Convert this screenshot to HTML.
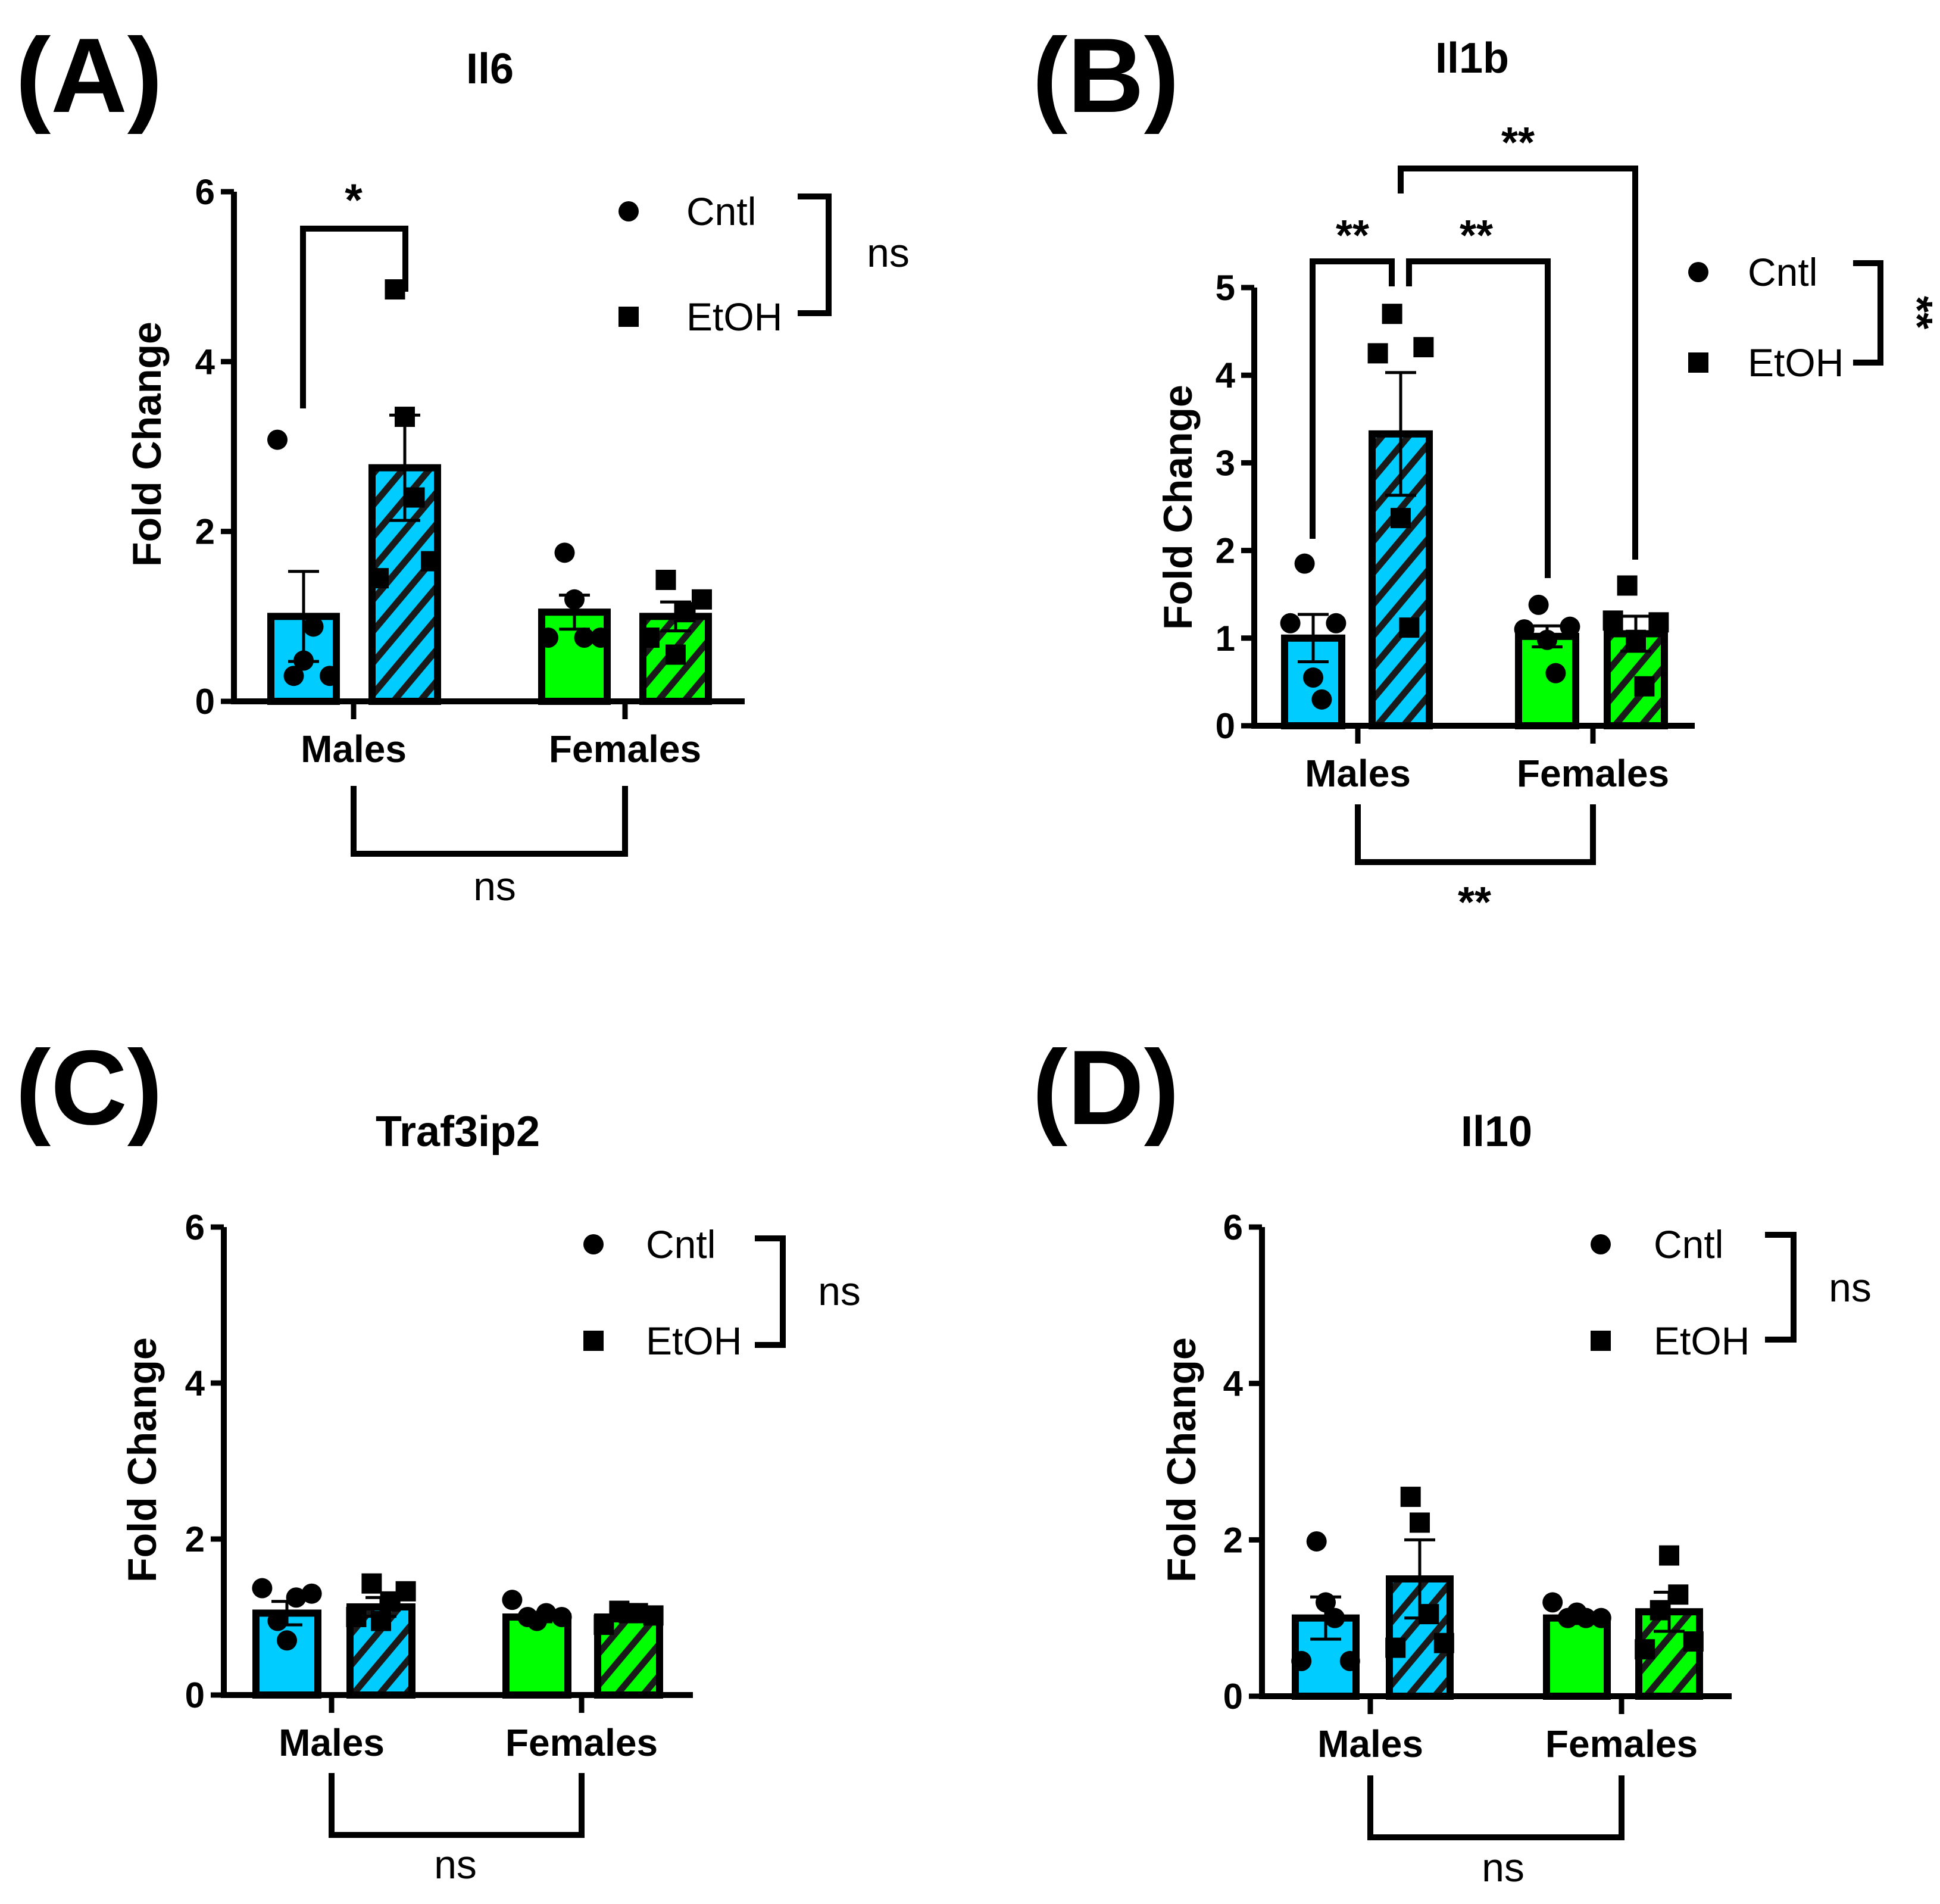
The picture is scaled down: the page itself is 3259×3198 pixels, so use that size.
<!DOCTYPE html>
<html><head><meta charset="utf-8">
<style>
html,body{margin:0;padding:0;background:#fff;}
svg{display:block;font-family:"Liberation Sans",Arial,sans-serif;}
</style></head>
<body>
<svg id="fig" width="3259" height="3198" viewBox="0 0 3259 3198" xmlns="http://www.w3.org/2000/svg">
<defs>
<pattern id="hatchB" patternUnits="userSpaceOnUse" width="34" height="34" patternTransform="rotate(40)">
<rect width="34" height="34" fill="#00CCFF"/><rect width="11" height="34" fill="#1a1a1a"/></pattern>
<pattern id="hatchG" patternUnits="userSpaceOnUse" width="34" height="34" patternTransform="rotate(40)">
<rect width="34" height="34" fill="#00FF00"/><rect width="11" height="34" fill="#1a1a1a"/></pattern>
</defs>
</svg>
<script>
// ---- data ----
const groups = ["Males","Females"];
const series = ["Cntl","EtOH"];
const il6Means = [1.0, 2.75, 1.05, 1.0];
const il6Sem = [0.53, 0.62, 0.2, 0.17];
const il6Points = [[3.08,0.3,0.48,0.88,0.3],[1.45,4.85,3.35,2.4,1.65],[0.75,1.75,1.2,0.75,0.75],[0.75,1.43,0.55,1.05,1.2]];
const il1bMeans = [1.0, 3.33, 1.02, 1.05];
const il1bSem = [0.27, 0.7, 0.12, 0.2];
const il1bPoints = [[1.17,1.85,0.55,0.3,1.17],[4.25,4.7,2.37,1.12,4.32],[1.1,1.38,0.98,0.6,1.13],[1.2,1.6,0.98,0.45,1.18]];
const trafMeans = [1.05, 1.13, 1.0, 1.0];
const trafSem = [0.15, 0.12, 0.06, 0.05];
const trafPoints = [[1.37,0.95,0.7,1.25,1.3],[1.0,1.43,0.95,1.2,1.33],[1.22,1.0,0.95,1.05,1.0],[0.9,1.08,1.05,1.05,1.02]];
const il10Means = [1.0, 1.5, 1.0, 1.08];
const il10Sem = [0.27, 0.5, 0.07, 0.25];
const il10Points = [[0.45,1.98,1.2,1.0,0.45],[0.62,2.55,2.22,1.05,0.68],[1.2,1.0,1.07,1.0,1.0],[0.6,1.1,1.8,1.3,0.7]];
const ticksA = [0,2,4,6];
const ticksB = [0,1,2,3,4,5];
const ticksC = [0,2,4,6];
const ticksD = [0,2,4,6];

const NS="http://www.w3.org/2000/svg";
const svg=document.getElementById('fig');
function el(tag,attrs,parent,text){const e=document.createElementNS(NS,tag);for(const k in attrs)e.setAttribute(k,attrs[k]);if(text!==undefined)e.textContent=text;(parent||svg).appendChild(e);return e;}
const jitter=[-0.4,-0.15,0,0.15,0.4];

function panel(cfg){
  const g=el('g',{});
  
  
  const y=v=>cfg.y0-(v/cfg.ymax)*(cfg.y0-cfg.ytop);
  const barX=i=>cfg.barLeft[i];
  const bw=cfg.bw;
  const fills=['#00CCFF','url(#hatchB)','#00FF00','url(#hatchG)'];
  cfg.means.forEach((m,i)=>{
    const b=el('rect',{x:barX(i),y:y(m),width:bw,height:cfg.y0-y(m),fill:fills[i],stroke:'#000','stroke-width':12},g);
    
    
  });
  cfg.points.forEach((arr,i)=>{
    const cx=barX(i)+bw/2;
    arr.forEach((v,j)=>{
      const px=cx+jitter[j]*bw;
      let p;
      if(i%2===0){p=el('circle',{cx:px,cy:y(v),r:17,fill:'#000'},g);}
      else{p=el('rect',{x:px-17,y:y(v)-17,width:34,height:34,fill:'#000'},g);}
      
      
    });
  });
  cfg.means.forEach((m,i)=>{
    const cx=barX(i)+bw/2,t=y(m+cfg.sem[i]),bt=y(m-cfg.sem[i]);
    const e=el('path',{d:`M${cx},${bt}V${t}M${cx-26},${t}H${cx+26}M${cx-26},${bt}H${cx+26}`,stroke:'#000','stroke-width':5,fill:'none'},g);
    
    
  });
  const ax=el('path',{d:`M${cfg.ax},${cfg.ytop}V${cfg.y0}H${cfg.xend}`,stroke:'#000','stroke-width':10,fill:'none'},g);
  
  
  cfg.ticks.forEach(t=>{
    el('line',{x1:cfg.ax-22,x2:cfg.ax,y1:y(t),y2:y(t),stroke:'#000','stroke-width':9},g);
    const tl=el('text',{x:cfg.ax-32,y:y(t)+21,'text-anchor':'end','font-size':60,'font-weight':'bold'},g,String(t));
    
    
  });
  groups.forEach((gname,k)=>{
    const gx=cfg.groupX[k];
    el('line',{x1:gx,x2:gx,y1:cfg.y0,y2:cfg.y0+30,stroke:'#000','stroke-width':9},g);
    const cl=el('text',{x:gx,y:cfg.y0+102,'text-anchor':'middle','font-size':64,'font-weight':'bold'},g,gname);
    
    
  });
  const yl=el('text',{x:0,y:0,'text-anchor':'middle','font-size':68,'font-weight':'bold',transform:`translate(${cfg.ylx},${cfg.yly}) rotate(-90)`},g,'Fold Change');
  
  
  const ti=el('text',{x:cfg.titleX,y:cfg.titleY,'text-anchor':'middle','font-size':72,'font-weight':'bold'},g,cfg.title);
  
  
  const lt=el('text',{x:cfg.letterX,y:cfg.letterY,'font-size':178,'font-weight':'bold'},g,cfg.letter);
  
  
  const L=cfg.leg;
  const lc=el('circle',{cx:L.mx,cy:L.y1,r:17,fill:'#000'},g);
  
  
  const ls=el('rect',{x:L.mx-17,y:L.y2-17,width:34,height:34,fill:'#000'},g);
  
  
  const t1=el('text',{x:L.tx,y:L.y1+23,'font-size':66},g,'Cntl');
  
  
  const t2=el('text',{x:L.tx,y:L.y2+23,'font-size':66},g,'EtOH');
  
  
  const lb=el('path',{d:`M${L.bx1},${L.by1}H${L.bx2}V${L.by2}H${L.bx1}`,stroke:'#000','stroke-width':10,fill:'none'},g);
  
  
  const lst=el('text',{x:L.sx,y:L.sy,'font-size':L.rot?72:68,'font-weight':L.rot?'bold':'normal','text-anchor':'middle',transform:L.rot?`rotate(90 ${L.sx} ${L.sy})`:''},g,L.sig);
  
  
  const B=cfg.bot;
  const bb=el('path',{d:`M${cfg.groupX[0]},${B.y1}V${B.y2}H${cfg.groupX[1]}V${B.y1}`,stroke:'#000','stroke-width':10,fill:'none'},g);
  
  
  const bs=el('text',{x:B.sx,y:B.sy,'text-anchor':'middle','font-size':B.bold?72:68,'font-weight':B.bold?'bold':'normal'},g,B.sig);
  
  
  return g;
}

const gA=panel({name:'panel-a-il6',title:'Il6',letter:'(A)',letterX:26,letterY:188,titleX:823,titleY:140,
 y0:1178,ytop:322,ymax:6,ax:393,xend:1251,bw:110,barLeft:[455,625,910,1080],groupX:[594,1050],
 means:il6Means,sem:il6Sem,points:il6Points,ticks:ticksA,ylx:270,yly:746,
 leg:{mx:1056,y1:355,y2:532,tx:1153,bx1:1340,bx2:1392,by1:330,by2:526,sx:1492,sy:448,sig:'ns'},
 bot:{y1:1320,y2:1434,sx:831,sy:1512,sig:'ns'}});
const gB=panel({name:'panel-b-il1b',title:'Il1b',letter:'(B)',letterX:1734,letterY:188,titleX:2473,titleY:122,
 y0:1219,ytop:483,ymax:5,ax:2107,xend:2847,bw:96,barLeft:[2158,2305,2551,2700],groupX:[2281,2676],
 means:il1bMeans,sem:il1bSem,points:il1bPoints,ticks:ticksB,ylx:2002,yly:852,
 leg:{mx:2853,y1:457,y2:609,tx:2936,bx1:3113,bx2:3159,by1:442,by2:609,sx:3196,sy:525,sig:'**',rot:true},
 bot:{y1:1351,y2:1448,sx:2477,sy:1540,sig:'**',bold:true}});
[[`M2205,905V439H2338V481`,'bracket-males-cntl-etoh'],[`M2367,481V439H2600V971`,'bracket-males-females-etoh'],[`M2353,325V283H2747V940`,'bracket-etoh-sex']].forEach(b=>{
  const p=el('path',{d:b[0],stroke:'#000','stroke-width':10,fill:'none'},gB);
  
  
});
[[2272,420],[2480,420],[2550,264]].forEach(s=>{
  const t=el('text',{x:s[0],y:s[1],'text-anchor':'middle','font-size':72,'font-weight':'bold'},gB,'**');
  
  
});
const pa=el('path',{d:'M509,686V384H681V490',stroke:'#000','stroke-width':10,fill:'none'},gA);


const sa=el('text',{x:594,y:362,'text-anchor':'middle','font-size':76,'font-weight':'bold'},gA,'*');



panel({name:'panel-c-traf3ip2',title:'Traf3ip2',letter:'(C)',letterX:26,letterY:1888,titleX:769,titleY:1925,
 y0:2847,ytop:2061,ymax:6,ax:376,xend:1164,bw:104,barLeft:[430,588,850,1004],groupX:[557,977],
 means:trafMeans,sem:trafSem,points:trafPoints,ticks:ticksC,ylx:262,yly:2452,
 leg:{mx:997,y1:2090,y2:2252,tx:1085,bx1:1268,bx2:1315,by1:2080,by2:2259,sx:1410,sy:2192,sig:'ns'},
 bot:{y1:2978,y2:3082,sx:765,sy:3155,sig:'ns'}});
panel({name:'panel-d-il10',title:'Il10',letter:'(D)',letterX:1734,letterY:1888,titleX:2514,titleY:1925,
 y0:2849,ytop:2061,ymax:6,ax:2120,xend:2909,bw:102,barLeft:[2176,2334,2598,2753],groupX:[2302,2724],
 means:il10Means,sem:il10Sem,points:il10Points,ticks:ticksD,ylx:2008,yly:2452,
 leg:{mx:2689,y1:2090,y2:2252,tx:2778,bx1:2965,bx2:3013,by1:2074,by2:2250,sx:3108,sy:2186,sig:'ns'},
 bot:{y1:2982,y2:3086,sx:2525,sy:3160,sig:'ns'}});
</script>
</body></html>
